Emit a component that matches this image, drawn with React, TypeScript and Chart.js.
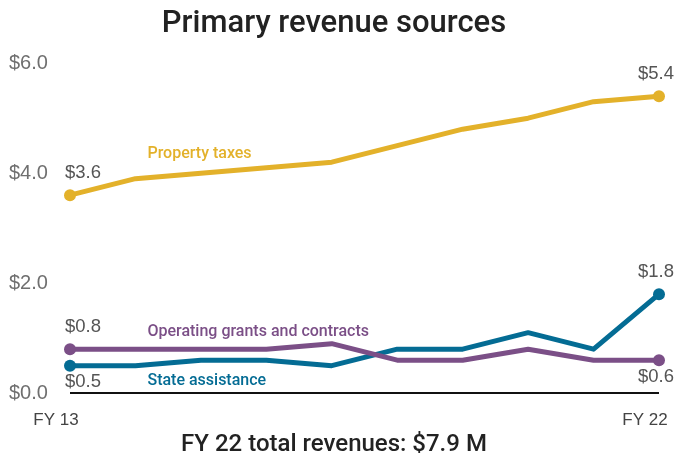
import { useEffect, useRef } from "react";
import { Chart, registerables } from "chart.js";

Chart.register(...registerables);

const categories = ["FY 13", "FY 14", "FY 15", "FY 16", "FY 17", "FY 18", "FY 19", "FY 20", "FY 21", "FY 22"];
const propertyTaxes = [3.6, 3.9, 4.0, 4.1, 4.2, 4.5, 4.8, 5.0, 5.3, 5.4];
const operatingGrants = [0.8, 0.8, 0.8, 0.8, 0.9, 0.6, 0.6, 0.8, 0.6, 0.6];
const stateAssistance = [0.5, 0.5, 0.6, 0.6, 0.5, 0.8, 0.8, 1.1, 0.8, 1.8];
const seriesNames = ["Property taxes", "Operating grants and contracts", "State assistance"];
const seriesColors = ["#E3B12A", "#7B4F87", "#046C94"];
const yTickValues = [0, 2, 4, 6];
const shownXLabels = ["FY 13", "FY 22"];
// series name placement: category index and value where the name sits
const seriesLabelIndex = [1, 1, 1];
const seriesLabelValue = [4.35, 1.11, 0.22];
// end value label side (-1 above, 1 below) for [first, last] points
const endLabelSide = [
  [-1, -1],
  [-1, 1],
  [1, -1],
];
const titleText = "Primary revenue sources";
const subtitleText = "FY 22 total revenues: $7.9 M";

const allSeries = [propertyTaxes, operatingGrants, stateAssistance];

const labelsPlugin = {
  id: "customLabels",
  afterDatasetsDraw(chart: any) {
    const ctx = chart.ctx;
    const xScale = chart.scales.x;
    const yScale = chart.scales.y;
    ctx.save();
    ctx.textBaseline = "middle";
    allSeries.forEach((series, i) => {
      const meta = chart.getDatasetMeta(i);
      const first = meta.data[0];
      const last = meta.data[series.length - 1];
      ctx.font = "18.5px 'Liberation Sans'";
      ctx.fillStyle = "#555555";
      ctx.textAlign = "left";
      ctx.fillText("$" + series[0].toFixed(1), first.x - 5, first.y + (endLabelSide[i][0] < 0 ? -22 : 16));
      ctx.textAlign = "center";
      ctx.fillText(
        "$" + series[series.length - 1].toFixed(1),
        last.x - 3,
        last.y + (endLabelSide[i][1] < 0 ? -22 : 17)
      );
      ctx.font = "500 16px Roboto";
      ctx.fillStyle = seriesColors[i];
      ctx.textAlign = "left";
      ctx.fillText(
        seriesNames[i],
        xScale.getPixelForValue(seriesLabelIndex[i]) + 12,
        yScale.getPixelForValue(seriesLabelValue[i])
      );
    });
    ctx.restore();
  },
};

export default function App() {
  const canvasRef = useRef<HTMLCanvasElement | null>(null);

  useEffect(() => {
    if (!canvasRef.current) return;
    const n = categories.length;
    const chart = new Chart(canvasRef.current, {
      type: "line",
      data: {
        labels: categories,
        datasets: allSeries.map((series, i) => ({
          label: seriesNames[i],
          data: series,
          borderColor: seriesColors[i],
          backgroundColor: seriesColors[i],
          borderWidth: 5,
          tension: 0,
          borderJoinStyle: "round" as const,
          borderCapStyle: "round" as const,
          pointRadius: (c: any) => (c.dataIndex === 0 || c.dataIndex === n - 1 ? 6 : 0),
          pointHoverRadius: 0,
          pointBorderWidth: 0,
          clip: false as any,
        })),
      },
      options: {
        animation: false,
        responsive: true,
        maintainAspectRatio: false,
        layout: { padding: { left: 9, right: 21, top: 0, bottom: 0 } },
        plugins: {
          legend: { display: false },
          tooltip: { enabled: false },
          title: {
            display: true,
            text: titleText,
            color: "#222222",
            font: { family: "Roboto", size: 31, weight: 500 as any },
            padding: { top: 6, bottom: 20 },
          },
          subtitle: {
            display: true,
            position: "bottom",
            text: subtitleText,
            color: "#222222",
            font: { family: "Roboto", size: 24, weight: 500 as any },
            padding: { top: 0, bottom: 1 },
          },
        },
        scales: {
          x: {
            type: "category",
            grid: { display: false, drawTicks: false },
            border: { display: false },
            ticks: {
              autoSkip: false,
              maxRotation: 0,
              padding: 17,
              labelOffset: -14,
              color: "#444444",
              font: { family: "Liberation Sans", size: 17 },
              callback: (_v: any, idx: number) =>
                shownXLabels.includes(categories[idx]) ? categories[idx] : "",
            },
            afterFit: (scale: any) => {
              scale.height = 37;
              scale.paddingLeft = 0;
              scale.paddingRight = 0;
            },
          },
          y: {
            min: yTickValues[0],
            max: yTickValues[yTickValues.length - 1],
            afterBuildTicks: (scale: any) => {
              scale.ticks = yTickValues.map((v) => ({ value: v }));
            },
            grid: {
              drawTicks: false,
              color: (c: any) => (c.tick && c.tick.value === 0 ? "#111111" : "rgba(0,0,0,0)"),
              lineWidth: 2,
            },
            border: { display: false },
            ticks: {
              crossAlign: "far",
              color: "#6f6f6f",
              font: { family: "Liberation Sans", size: 20 },
              callback: (v: any) => "$" + Number(v).toFixed(1),
            },
            afterFit: (scale: any) => {
              scale.width = 61;
            },
          },
        },
      },
      plugins: [labelsPlugin],
    });
    return () => chart.destroy();
  }, []);

  return (
    <div style={{ position: "fixed", left: 0, top: 0, width: 680, height: 460, background: "#ffffff" }}>
      <canvas ref={canvasRef} />
    </div>
  );
}
